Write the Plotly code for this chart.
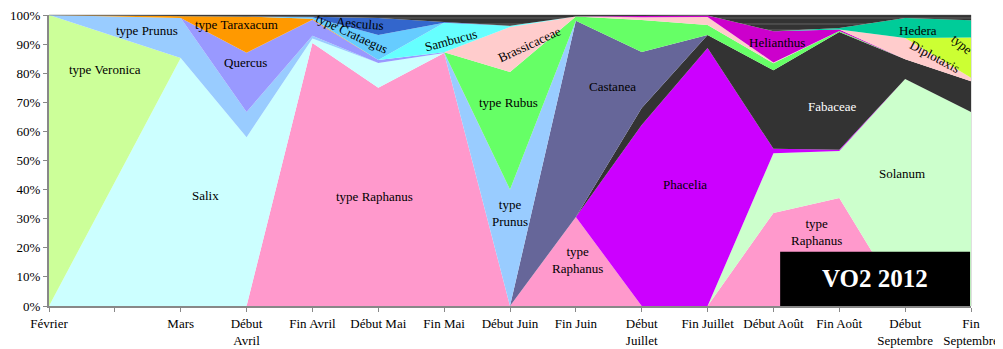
import plotly.graph_objs as go

# categories (the blank slot between Février and Mars is only a tick)
tick_pos = list(range(15))
tick_labels = ["Février", "", "Mars", "Début<br>Avril", "Fin Avril", "Début Mai", "Fin Mai",
               "Début Juin", "Fin Juin", "Début<br>Juillet", "Fin Juillet", "Début Août",
               "Fin Août", "Début<br>Septembre", "Fin<br>Septembre"]
x_pos = [0, 2, 3, 4, 5, 6, 7, 8, 9, 10, 11, 12, 13, 14]

# pollen shares (%) per sampling date, bottom of the stack first
raphanus    = [0, 0, 0, 90.4, 75, 86.9, 0, 30.6, 0, 0, 32, 37.1, 0, 0]
solanum     = [0, 0, 0, 0, 0, 0, 0, 0, 0, 0, 20.5, 16.2, 78, 66.7]
phacelia    = [0, 0, 0, 0, 0, 0, 0, 0, 62.2, 88.7, 1.5, 0.4, 0, 0]
fabaceae    = [0, 0, 0, 0, 0, 0, 0, 0, 5.8, 4.4, 27, 40.5, 6.8, 10.5]
castanea    = [0, 0, 0, 0, 0, 0, 0, 67.4, 19.3, 0, 0, 0, 0, 0]
salix       = [0, 85.2, 58, 1.5, 8.5, 0, 0, 0, 0, 0, 0, 0, 0, 0]
veronica    = [100, 0, 0, 0, 0, 0, 0, 0, 0, 0, 0, 0, 0, 0]
prunus      = [0, 13.8, 8.7, 1, 0, 0, 40, 0, 0, 0, 0, 0, 0, 0]
quercus     = [0, 0, 20.3, 5.5, 1, 0.3, 0, 0, 0, 0, 0, 0, 0, 0]
taraxacum   = [0, 0.5, 12.5, 0.3, 0, 0, 0, 0, 0, 0, 0, 0, 0, 0]
rubus       = [0, 0, 0, 0, 0, 0, 40.4, 1.5, 11, 3.5, 2.4, 0.3, 0, 0]
brassicaceae = [0, 0, 0, 0, 0, 0, 15.5, 0, 0.9, 2.7, 0.3, 0, 0, 0]
sambucus    = [0, 0, 0, 0, 0, 10.1, 0.4, 0, 0, 0, 0, 0, 0, 0]
crataegus   = [0, 0, 0, 0.5, 8.6, 0, 0, 0, 0, 0, 0, 0, 0, 0]
aesculus    = [0, 0, 0, 0.2, 5.9, 0.3, 0, 0, 0, 0, 0, 0, 0, 0]
helianthus  = [0, 0, 0, 0, 0, 0, 0, 0, 0.5, 0.5, 10.7, 0.5, 0, 0]
diplotaxis  = [0, 0, 0, 0, 0, 0, 0, 0, 0, 0, 0, 0, 7.3, 1.2]
type_jaune  = [0, 0, 0, 0, 0, 0, 0, 0, 0, 0, 0, 0, 0, 13.9]
hedera      = [0, 0, 0, 0, 0, 0, 0, 0, 0, 0, 0, 0.5, 6.9, 5.9]
autres      = [0, 0.5, 0.5, 0.6, 1, 2.4, 3.7, 0.5, 0.3, 0.2, 5.6, 4.5, 1, 1.8]

series = [
    ("type Raphanus", raphanus, "#FF99CC"),
    ("Solanum", solanum, "#CCFFCC"),
    ("Phacelia", phacelia, "#CC00FF"),
    ("Fabaceae", fabaceae, "#333333"),
    ("Castanea", castanea, "#666699"),
    ("Salix", salix, "#CCFFFF"),
    ("type Veronica", veronica, "#CCFF99"),
    ("type Prunus", prunus, "#99CCFF"),
    ("Quercus", quercus, "#9999FF"),
    ("type Taraxacum", taraxacum, "#FF9900"),
    ("type Rubus", rubus, "#66FF66"),
    ("Brassicaceae", brassicaceae, "#FFCCCC"),
    ("Sambucus", sambucus, "#66FFFF"),
    ("type Crataegus", crataegus, "#66CCFF"),
    ("Aesculus", aesculus, "#3366CC"),
    ("Helianthus", helianthus, "#CC00CC"),
    ("Diplotaxis", diplotaxis, "#FFCCCC"),
    ("type", type_jaune, "#CCFF33"),
    ("Hedera", hedera, "#00CC99"),
]

fig = go.Figure()
for name, vals, col in series:
    fig.add_trace(go.Scatter(x=x_pos, y=vals, name=name, mode="lines", stackgroup="one",
                             line=dict(width=0, color=col), fillcolor=col))
fig.add_trace(go.Scatter(x=x_pos, y=autres, name="Autres", mode="lines", stackgroup="one",
                         line=dict(width=0.5, color="#555555"), fillcolor="#333333",
                         fillpattern=dict(shape="-", bgcolor="#333333", fgcolor="#9a9a9a",
                                          size=6, solidity=0.15)))

font = "Liberation Serif, Times New Roman, serif"

# species labels: (text, x, y, angle, colour)
labels = [
    ("type Veronica", 0.85, 81.4, 0, "black"),
    ("type Prunus", 1.49, 94.8, 0, "black"),
    ("type Taraxacum", 2.85, 96.9, 0, "black"),
    ("Quercus", 2.99, 83.8, 0, "black"),
    ("Salix", 2.37, 38.1, 0, "black"),
    ("type Crataegus", 4.6, 93.6, 25, "black"),
    ("Aesculus", 4.72, 97.0, 5, "black"),
    ("type Raphanus", 4.95, 37.8, 0, "black"),
    ("Sambucus", 6.09, 91.4, -15, "black"),
    ("Brassicaceae", 7.29, 89.7, -25, "black"),
    ("type Rubus", 6.97, 70.1, 0, "black"),
    ("type<br>Prunus", 7.0, 32, 0, "black"),
    ("Castanea", 8.56, 75.6, 0, "black"),
    ("type<br>Raphanus", 8.02, 15.8, 0, "black"),
    ("Phacelia", 9.66, 41.9, 0, "black"),
    ("Helianthus", 11.05, 90.7, 0, "black"),
    ("Fabaceae", 11.9, 68.7, 0, "white"),
    ("Solanum", 12.95, 45.7, 0, "black"),
    ("type<br>Raphanus", 11.66, 25.4, 0, "black"),
    ("Hedera", 13.19, 94.8, 0, "black"),
    ("Diplotaxis", 13.45, 85.9, 28, "black"),
    ("type", 13.86, 89.7, 40, "black"),
]
for txt, lx, ly, ang, col in labels:
    fig.add_annotation(x=lx, y=ly, text=txt, showarrow=False, textangle=ang,
                       xanchor="center", yanchor="middle",
                       font=dict(family=font, size=13, color=col))

# VO2 2012 box
fig.add_shape(type="rect", xref="paper", yref="paper", x0=0.793, x1=0.999, y0=0, y1=0.186,
              fillcolor="black", line=dict(width=0), layer="above")
fig.add_annotation(xref="paper", yref="paper", x=0.896, y=0.093, text="<b>VO2 2012</b>",
                   xanchor="center", yanchor="middle", showarrow=False,
                   font=dict(family=font, size=25, color="white"))

# plot area border
fig.add_shape(type="rect", xref="paper", yref="paper", x0=0, x1=1, y0=0, y1=1,
              line=dict(color="#c0c0c0", width=1), layer="below")

# the page body adds an 8px offset; figure is a bit wider so the last tick label isn't clipped
fig.update_layout(
    width=1003, height=341,
    margin=dict(l=41, r=40, t=7, b=43, autoexpand=False),
    paper_bgcolor="white", plot_bgcolor="white",
    showlegend=False,
    font=dict(family=font, size=13, color="black"),
    xaxis=dict(range=[0, 14], tickmode="array", tickvals=tick_pos, ticktext=tick_labels,
               showgrid=False, zeroline=False, showline=True, linecolor="#888888", linewidth=2,
               ticks="outside", ticklen=4, tickcolor="#888888", tickangle=0, automargin=False,
               ticklabeloverflow="allow"),
    yaxis=dict(range=[0, 100], dtick=10, ticksuffix="%", showgrid=False, zeroline=False,
               showline=True, linecolor="#888888", linewidth=2, ticks="outside", ticklen=4,
               tickcolor="#888888", automargin=False, ticklabeloverflow="allow"),
)

fig.write_html("out.html")
